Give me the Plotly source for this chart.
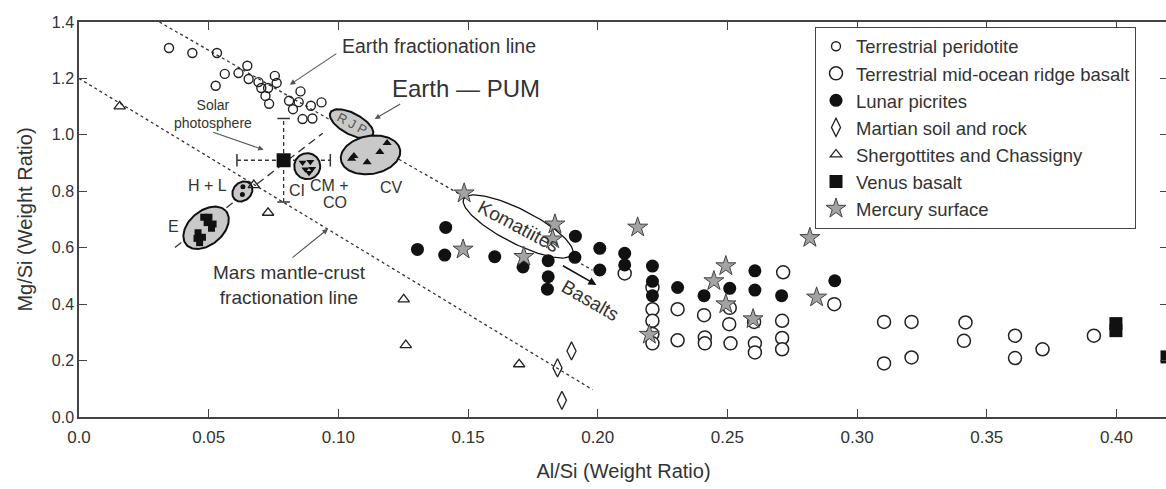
import numpy as np
import plotly.graph_objects as go

# ---- data (Al/Si, Mg/Si weight ratios) ----
peridotite_x = [0.0347, 0.0437, 0.0532, 0.0649, 0.0562, 0.0615, 0.0654, 0.0527, 0.0692, 0.0703,
                0.0729, 0.0755, 0.0762, 0.0719, 0.0733, 0.0854, 0.0810, 0.0847, 0.0825, 0.0894,
                0.0935, 0.0862, 0.0900]
peridotite_y = [1.308, 1.290, 1.290, 1.245, 1.216, 1.219, 1.198, 1.174, 1.187, 1.166,
                1.166, 1.209, 1.184, 1.138, 1.110, 1.154, 1.121, 1.116, 1.091, 1.103,
                1.115, 1.056, 1.058]

morb_x = [0.2104, 0.2211, 0.2211, 0.2211, 0.2211, 0.2211, 0.2308, 0.2308, 0.2410, 0.2413,
          0.2413, 0.2509, 0.2507, 0.2512, 0.2603, 0.2606, 0.2606, 0.2715, 0.2711, 0.2711,
          0.2711, 0.2912, 0.3104, 0.3104, 0.3210, 0.3210, 0.3418, 0.3412, 0.3609, 0.3609,
          0.3715, 0.3913]
morb_y = [0.509, 0.459, 0.382, 0.341, 0.294, 0.261, 0.382, 0.272, 0.361, 0.282,
          0.261, 0.387, 0.329, 0.261, 0.337, 0.261, 0.229, 0.513, 0.341, 0.280,
          0.240, 0.400, 0.337, 0.190, 0.337, 0.211, 0.335, 0.270, 0.288, 0.209,
          0.240, 0.288]

lunar_x = [0.1414, 0.1305, 0.1410, 0.1603, 0.1712, 0.1914, 0.1912, 0.1809, 0.1809, 0.1806,
           0.2008, 0.2008, 0.2104, 0.2104, 0.2211, 0.2211, 0.2211, 0.2308, 0.2410, 0.2509,
           0.2606, 0.2606, 0.2709, 0.2914]
lunar_y = [0.672, 0.594, 0.574, 0.568, 0.532, 0.641, 0.566, 0.554, 0.497, 0.453,
           0.598, 0.521, 0.580, 0.539, 0.535, 0.481, 0.430, 0.459, 0.430, 0.456,
           0.518, 0.450, 0.430, 0.483]

martian_x = [0.1899, 0.1845, 0.1862]
martian_y = [0.234, 0.174, 0.059]

shergottite_x = [0.0157, 0.0674, 0.0729, 0.1252, 0.1260, 0.1697]
shergottite_y = [1.101, 0.822, 0.724, 0.417, 0.255, 0.187]

venus_x = [0.3998, 0.3998, 0.4195]
venus_y = [0.331, 0.306, 0.213]

mercury_x = [0.1485, 0.1481, 0.1835, 0.1826, 0.1715, 0.2154, 0.2199, 0.2494, 0.2448, 0.2494,
             0.2599, 0.2818, 0.2844]
mercury_y = [0.793, 0.594, 0.683, 0.630, 0.568, 0.672, 0.292, 0.535, 0.482, 0.400,
             0.347, 0.635, 0.424]

# chondrite groups and the solar photosphere
e_x = [0.0481, 0.0501, 0.0494, 0.0517, 0.0511, 0.0459, 0.0455, 0.0476, 0.0465]
e_y = [0.708, 0.708, 0.689, 0.684, 0.669, 0.653, 0.633, 0.637, 0.618]
hl_x = [0.0632, 0.0630]
hl_y = [0.816, 0.789]
cmco_x = [0.0862, 0.0892, 0.0873, 0.0899, 0.0887]
cmco_y = [0.902, 0.905, 0.878, 0.880, 0.866]
cv_x = [0.1051, 0.1060, 0.1111, 0.1160, 0.1188]
cv_y = [0.915, 0.925, 0.903, 0.939, 0.971]
solar_x, solar_y = 0.0789, 0.910
solar_dx, solar_dy = 0.018, 0.148

# trend lines (end points)
earth_line_x = [0.031, 0.198]
earth_line_y = [1.40, 0.52]
mars_line_x = [0.0, 0.198]
mars_line_y = [1.20, 0.097]
chondrite_line_x = [0.037, 0.094]
chondrite_line_y = [0.601, 1.006]

x_ticks = [0.0, 0.05, 0.10, 0.15, 0.20, 0.25, 0.30, 0.35, 0.40]
x_ticktext = ["0.0", "0.05", "0.10", "0.15", "0.20", "0.25", "0.30", "0.35", "0.40"]
y_ticks = [0.0, 0.2, 0.4, 0.6, 0.8, 1.0, 1.2, 1.4]
y_ticktext = ["0.0", "0.2", "0.4", "0.6", "0.8", "1.0", "1.2", "1.4"]

# ---- layout geometry ----
# the original figure is cut at the right edge, so the figure is a touch wider than the window
W, H = 1168, 489
M_L, M_R, M_T, M_B = 79, 0, 22, 72
X_MAX, Y_MAX = 0.41988, 1.4
SX = (W - M_L - M_R) / X_MAX   # px per unit
SY = (H - M_T - M_B) / Y_MAX
FONT = "Liberation Sans, Arial, sans-serif"
INK = "#333333"


def ellipse(cx, cy, a, b, ang, n=120):
    # a, b in pixels, ang in degrees (counter-clockwise on screen)
    t = np.linspace(0, 2 * np.pi, n)
    r = np.radians(ang)
    px = a * np.cos(t) * np.cos(r) - b * np.sin(t) * np.sin(r)
    py = a * np.cos(t) * np.sin(r) + b * np.sin(t) * np.cos(r)
    return cx + px / SX, cy + py / SY


fig = go.Figure()

# dashed trend lines
for lx, ly, dash in [(earth_line_x, earth_line_y, "3px,3px"),
                     (mars_line_x, mars_line_y, "3px,3px"),
                     (chondrite_line_x, chondrite_line_y, "8px,5px")]:
    fig.add_trace(go.Scatter(x=lx, y=ly, mode="lines", showlegend=False, hoverinfo="skip",
                             line=dict(color=INK, width=1.3, dash=dash), cliponaxis=False))

# solar photosphere error bars (dashed)
fig.add_trace(go.Scatter(x=[solar_x - solar_dx, solar_x + solar_dx], y=[solar_y, solar_y],
                         mode="lines", showlegend=False, hoverinfo="skip",
                         line=dict(color=INK, width=1.3, dash="4px,3px")))
fig.add_trace(go.Scatter(x=[solar_x, solar_x], y=[solar_y - solar_dy, solar_y + solar_dy],
                         mode="lines", showlegend=False, hoverinfo="skip",
                         line=dict(color=INK, width=1.3, dash="4px,3px")))
fig.add_trace(go.Scatter(x=[solar_x - solar_dx, solar_x + solar_dx], y=[solar_y, solar_y],
                         mode="markers", showlegend=False, hoverinfo="skip",
                         marker=dict(symbol="line-ns", size=9, line=dict(color=INK, width=1.5))))
fig.add_trace(go.Scatter(x=[solar_x, solar_x], y=[solar_y - solar_dy, solar_y + solar_dy],
                         mode="markers", showlegend=False, hoverinfo="skip",
                         marker=dict(symbol="line-ew", size=9, line=dict(color=INK, width=1.5))))

# chondrite / reservoir ellipses
ellipses = [
    (0.0490, 0.6706, 26, 17, 40, "#c9c9c9", 2.0),   # E
    (0.0630, 0.7995, 11, 9, 45, "#c9c9c9", 2.0),    # H + L
    (0.0880, 0.8889, 13, 13, 0, "#c9c9c9", 2.0),    # CM + CO
    (0.1051, 1.0391, 24, 10.5, -28, "#c9c9c9", 2.0),  # RJP
    (0.1124, 0.9290, 30, 19, 10, "#c9c9c9", 2.0),   # CV
    (0.1693, 0.6752, 61, 17, -27, "white", 1.3),    # Komatiites
]
for cx, cy, a, b, ang, fill, lw in ellipses:
    ex, ey = ellipse(cx, cy, a, b, ang)
    fig.add_trace(go.Scatter(x=ex, y=ey, mode="lines", fill="toself", fillcolor=fill,
                             line=dict(color="#111111", width=lw), showlegend=False,
                             hoverinfo="skip"))

# chondrite members
fig.add_trace(go.Scatter(x=e_x, y=e_y, mode="markers", showlegend=False, hoverinfo="skip",
                         marker=dict(symbol="square", size=7, color="#111111")))
fig.add_trace(go.Scatter(x=hl_x, y=hl_y, mode="markers", showlegend=False, hoverinfo="skip",
                         marker=dict(symbol="circle", size=5, color="#111111")))
fig.add_trace(go.Scatter(x=cmco_x, y=cmco_y, mode="markers", showlegend=False, hoverinfo="skip",
                         marker=dict(symbol="triangle-down", size=7, color="#111111")))
fig.add_trace(go.Scatter(x=cv_x, y=cv_y, mode="markers", showlegend=False, hoverinfo="skip",
                         marker=dict(symbol="triangle-up", size=8, color="#111111")))
fig.add_trace(go.Scatter(x=[solar_x], y=[solar_y], mode="markers", showlegend=False,
                         hoverinfo="skip",
                         marker=dict(symbol="square", size=14, color="#111111")))

# legend series
series = [
    ("Terrestrial peridotite", peridotite_x, peridotite_y,
     dict(symbol="circle-open", size=9, color="#222222", line=dict(width=1.4))),
    ("Terrestrial mid-ocean ridge basalt", morb_x, morb_y,
     dict(symbol="circle", size=13, color="white", line=dict(color="#222222", width=1.5))),
    ("Lunar picrites", lunar_x, lunar_y,
     dict(symbol="circle", size=13, color="#111111")),
    ("Martian soil and rock", martian_x, martian_y,
     dict(symbol="diamond-tall-open", size=13, color="#222222", line=dict(width=1.3))),
    ("Shergottites and Chassigny", shergottite_x, shergottite_y,
     dict(symbol="triangle-up-open", size=10, color="#222222", line=dict(width=1.3))),
    ("Venus basalt", venus_x, venus_y,
     dict(symbol="square", size=13, color="#111111")),
    ("Mercury surface", mercury_x, mercury_y,
     dict(symbol="star", size=15, color="#a3a3a3", line=dict(color="#444444", width=1))),
]
for i, (name, sx, sy, mk) in enumerate(series):
    fig.add_trace(go.Scatter(x=sx, y=sy, mode="markers", name=name, marker=mk,
                             legendgroup=str(i), cliponaxis=False))

# ---- text labels ----
labels = [
    ("Earth fractionation line", 0.1389, 1.316, 19.5, 0, INK),
    ("Earth — PUM", 0.1491, 1.166, 24, 0, INK),
    ("Solar<br>photosphere", 0.0517, 1.075, 14, 0, INK),
    ("H + L", 0.0497, 0.819, 16, 0, INK),
    ("E", 0.0366, 0.674, 16, 0, INK),
    ("CI", 0.0841, 0.802, 16, 0, INK),
    ("CM +", 0.0967, 0.819, 16, 0, INK),
    ("CO", 0.0986, 0.760, 16, 0, INK),
    ("CV", 0.1205, 0.813, 16, 0, INK),
    ("R J P", 0.1051, 1.039, 13, 28, "#555555"),
    ("Komatiites", 0.1696, 0.6745, 19, 28, INK),
    ("Basalts", 0.1971, 0.4118, 19, 30, INK),
    ("Mars mantle-crust<br>fractionation line", 0.0810, 0.469, 19, 0, INK),
]
annotations = []
for text, x, y, size, ang, col in labels:
    annotations.append(dict(text=text, x=x, y=y, xref="x", yref="y", showarrow=False,
                            textangle=ang, font=dict(size=size, color=col, family=FONT)))

arrows = [
    (0.0813, 1.178, 48, -32, "#555555", 1.1),
    (0.0712, 0.947, -52, -18, "#555555", 1.1),
    (0.1140, 1.056, 27, -16, "#555555", 1.1),
    (0.0960, 0.667, -37, 30, "#555555", 1.1),
    (0.1995, 0.468, -35, -20, "#111111", 1.6),
]
for x, y, ax, ay, col, w in arrows:
    annotations.append(dict(text="", x=x, y=y, xref="x", yref="y", ax=ax, ay=ay,
                            showarrow=True, arrowhead=2, arrowsize=1, arrowwidth=w,
                            arrowcolor=col))

axis_common = dict(showline=True, linecolor="#444444", linewidth=1.5, mirror="allticks",
                   ticks="inside", ticklen=8, tickwidth=1.2, tickcolor="#444444",
                   showgrid=False, zeroline=False, automargin=False)

fig.update_layout(
    width=W, height=H,
    margin=dict(l=M_L, r=M_R, t=M_T, b=M_B),
    paper_bgcolor="white", plot_bgcolor="white",
    font=dict(family=FONT, color=INK),
    xaxis=dict(range=[0, X_MAX], tickvals=x_ticks, ticktext=x_ticktext,
               tickfont=dict(size=17, color=INK), ticklabelstandoff=4,
               title=dict(text="Al/Si (Weight Ratio)", font=dict(size=20, color=INK), standoff=18),
               **axis_common),
    yaxis=dict(range=[0, Y_MAX], tickvals=y_ticks, ticktext=y_ticktext,
               tickfont=dict(size=16, color=INK),
               title=dict(text="Mg/Si (Weight Ratio)", font=dict(size=20, color=INK), standoff=14),
               **axis_common),
    legend=dict(x=(815 - M_L) / (W - M_L - M_R), y=0.988, xanchor="left", yanchor="top",
                bordercolor="#444444", borderwidth=1, bgcolor="white",
                font=dict(size=18.5, color=INK, family=FONT),
                tracegroupgap=0, itemsizing="trace"),
    annotations=annotations,
    showlegend=True,
)

# drop the page's default body margin and any scrollbars
fig.write_html("out.html", config={"displayModeBar": False},
               post_script="document.body.style.margin='0';"
                           "document.body.style.overflow='hidden';"
                           "document.documentElement.style.overflow='hidden';")
